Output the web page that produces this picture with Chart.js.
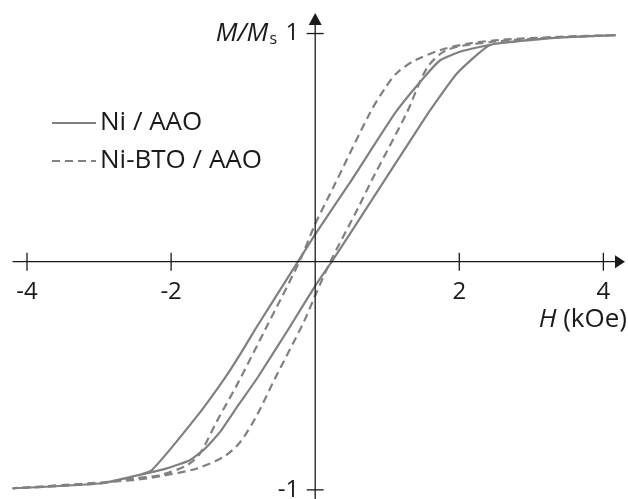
<!DOCTYPE html>
<html>
<head>
<meta charset="utf-8">
<script src="https://cdn.jsdelivr.net/npm/chart.js@4.4.1/dist/chart.umd.min.js"></script>
<style>
  html, body { margin: 0; padding: 0; background: #fff; }
  #wrap { width: 628px; height: 499px; }
</style>
</head>
<body>
<div id="wrap"><canvas id="loop" width="628" height="499"></canvas></div>
<script>
// M/Ms vs H (kOe) hysteresis loops
const seriesNames = ['Ni / AAO', 'Ni-BTO / AAO'];

// Ni / AAO - field going down (upper branch)
const niDownH = [4.17, 3.40, 2.48, 2.02, 1.74, 1.50, 1.11, 0.51, 0, -0.24, -0.83, -1.04, -1.25, -1.64, -2.27, -2.53, -2.99, -4.19];
const niDownM = [0.993, 0.983, 0.954, 0.921, 0.884, 0.804, 0.652, 0.360, 0.120, 0, -0.295, -0.405, -0.508, -0.677, -0.914, -0.941, -0.972, -0.993];
// Ni / AAO - field going up (lower branch)
const niUpH = [-4.19, -2.99, -2.53, -2.06, -1.74, -1.53, -1.32, -1.07, -0.81, -0.37, 0, 0.23, 0.72, 1.57, 1.97, 2.43, 3.40, 4.17];
const niUpM = [-0.993, -0.972, -0.941, -0.906, -0.870, -0.819, -0.746, -0.630, -0.513, -0.295, -0.106, 0, 0.238, 0.652, 0.826, 0.950, 0.983, 0.993];

// Ni-BTO / AAO - field going down
const btoDownH = [4.17, 3.40, 2.57, 2.15, 1.74, 1.37, 1.13, 0.97, 0.76, 0.25, 0, -0.22, -0.69, -1.09, -1.37, -1.60, -1.78, -2.15, -2.53, -2.99, -4.19];
const btoDownM = [0.993, 0.986, 0.972, 0.957, 0.928, 0.880, 0.826, 0.761, 0.652, 0.325, 0.165, 0, -0.295, -0.542, -0.702, -0.841, -0.892, -0.935, -0.950, -0.972, -0.993];
// Ni-BTO / AAO - field going up
const btoUpH = [-4.19, -2.53, -2.06, -1.64, -1.27, -1.04, -0.81, -0.56, -0.16, 0, 0.21, 0.60, 0.79, 1.27, 1.55, 1.83, 2.47, 3.40, 4.17];
const btoUpM = [-0.993, -0.957, -0.935, -0.906, -0.855, -0.790, -0.673, -0.513, -0.265, -0.148, 0, 0.238, 0.360, 0.652, 0.848, 0.928, 0.964, 0.983, 0.993];

// tick labels
const xTicks = [-4, -2, 2, 4];
const yTicks = [1, -1];

const FONT = '"Open Sans", "DejaVu Sans", sans-serif';
const INK = '#1a1a1a';
const CURVE = '#808080';

function toPoints(hs, ms) {
    return hs.map((h, i) => ({ x: h, y: ms[i] }));
}

// one dataset per sample: down branch followed by up branch
function loopPoints(downH, downM, upH, upM) {
    return toPoints(downH, downM).concat(toPoints(upH, upM).slice(1));
}

// axes through the origin, arrows, ticks, labels and legend
const axesPlugin = {
    id: 'axesThroughOrigin',
    afterDatasetsDraw(chart) {
        const ctx = chart.ctx;
        const xs = chart.scales.x, ys = chart.scales.y;
        const area = chart.chartArea;
        const x0 = xs.getPixelForValue(0);
        const y0 = ys.getPixelForValue(0);

        ctx.save();
        ctx.strokeStyle = INK;
        ctx.fillStyle = INK;
        ctx.lineWidth = 1.3;

        // x axis + arrow
        const xTip = area.right;
        ctx.beginPath();
        ctx.moveTo(xs.getPixelForValue(-4.2), y0);
        ctx.lineTo(xTip - 8, y0);
        ctx.stroke();
        ctx.beginPath();
        ctx.moveTo(xTip, y0);
        ctx.lineTo(xTip - 10, y0 - 6.5);
        ctx.lineTo(xTip - 10, y0 + 6.5);
        ctx.closePath();
        ctx.fill();

        // y axis + arrow
        const yTip = area.top;
        ctx.beginPath();
        ctx.moveTo(x0, chart.height);
        ctx.lineTo(x0, yTip + 8);
        ctx.stroke();
        ctx.beginPath();
        ctx.moveTo(x0, yTip);
        ctx.lineTo(x0 - 6.5, yTip + 12);
        ctx.lineTo(x0 + 6.5, yTip + 12);
        ctx.closePath();
        ctx.fill();

        // x ticks and labels
        ctx.font = '24px ' + FONT;
        ctx.textAlign = 'center';
        ctx.textBaseline = 'middle';
        xTicks.forEach(v => {
            const px = xs.getPixelForValue(v);
            ctx.beginPath();
            ctx.moveTo(px, y0 - 9);
            ctx.lineTo(px, y0 + 9);
            ctx.stroke();
            ctx.fillText(String(v), px, y0 + 30);
        });

        // y ticks and labels
        ctx.textAlign = 'right';
        yTicks.forEach(v => {
            const py = ys.getPixelForValue(v);
            ctx.beginPath();
            ctx.moveTo(x0 - 8.5, py);
            ctx.lineTo(x0 + 8.5, py);
            ctx.stroke();
            ctx.fillText(String(v), x0 - 16, py);
        });

        // y title: M/Ms
        const yt = ys.getPixelForValue(1);
        ctx.font = '16px ' + FONT;
        const sW = ctx.measureText('s').width;
        ctx.textAlign = 'right';
        ctx.fillText('s', 277, yt + 6);
        ctx.font = 'italic 26px ' + FONT;
        ctx.fillText('M/M', 277 - sW - 1, yt);

        // x title: H (kOe)
        const xt = y0 + 58;
        ctx.font = '26px ' + FONT;
        ctx.fillText('(kOe)', 627, xt);
        const unitW = ctx.measureText(' (kOe)').width;
        ctx.font = 'italic 26px ' + FONT;
        ctx.fillText('H', 627 - unitW, xt);

        // legend
        ctx.textAlign = 'left';
        chart.data.datasets.forEach((ds, i) => {
            const ly = 123 + i * 38;
            ctx.save();
            ctx.strokeStyle = ds.borderColor;
            ctx.lineWidth = ds.borderWidth;
            ctx.setLineDash(ds.borderDash || []);
            ctx.beginPath();
            ctx.moveTo(52, ly);
            ctx.lineTo(96, ly);
            ctx.stroke();
            ctx.restore();
            ctx.font = '26px ' + FONT;
            ctx.fillStyle = INK;
            ctx.fillText(ds.label, 100, ly);
        });

        ctx.restore();
    }
};

try {
    const ctx = document.getElementById('loop').getContext('2d');
    new Chart(ctx, {
        type: 'scatter',
        data: {
            datasets: [
                {
                    label: seriesNames[0],
                    data: loopPoints(niDownH, niDownM, niUpH, niUpM),
                    showLine: true,
                    borderColor: CURVE,
                    borderWidth: 2.2,
                    pointRadius: 0,
                    tension: 0.15
                },
                {
                    label: seriesNames[1],
                    data: loopPoints(btoDownH, btoDownM, btoUpH, btoUpM),
                    showLine: true,
                    borderColor: CURVE,
                    borderWidth: 2.2,
                    borderDash: [8, 5],
                    pointRadius: 0,
                    tension: 0.3
                }
            ]
        },
        options: {
            responsive: false,
            animation: false,
            devicePixelRatio: 1,
            layout: { padding: { left: 9, right: 3, top: 13, bottom: 0 } },
            scales: {
                x: { type: 'linear', min: -4.25, max: 4.3, display: false },
                y: { type: 'linear', min: -1.04, max: 1.09, display: false }
            },
            plugins: {
                legend: { display: false },
                tooltip: { enabled: false }
            }
        },
        plugins: [axesPlugin]
    });
} catch (e) {
    console.error('Chart Error:', e);
}
</script>
</body>
</html>
